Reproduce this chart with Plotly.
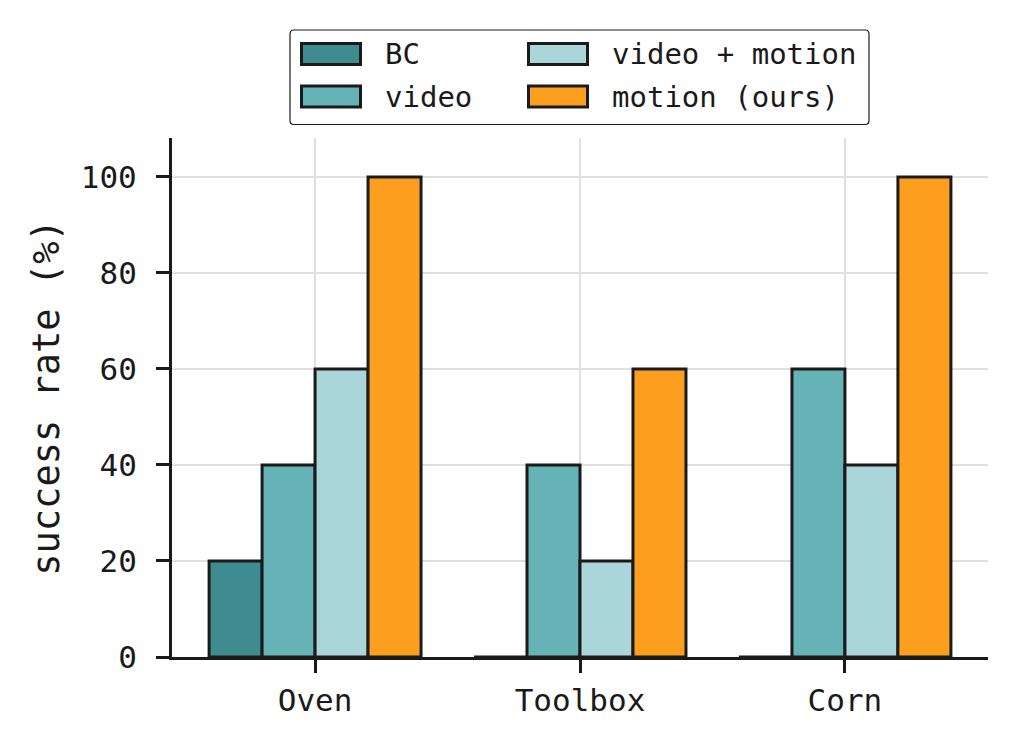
import plotly.graph_objects as go

categories = ["Oven", "Toolbox", "Corn"]
series_names = ["BC", "video", "video + motion", "motion (ours)"]
bc = [20, 0, 0]
video = [40, 40, 60]
video_motion = [60, 20, 40]
motion = [100, 60, 100]
series_values = [bc, video, video_motion, motion]
colors = ["#3f8c90", "#66b3b7", "#abd6d9", "#fd9f1e"]
y_ticks = [0, 20, 40, 60, 80, 100]
y_label = "success rate (%)"

W, H = 1017, 750
L, R, T, B = 172, 988, 138, 657
EDGE = "#1a1a1a"
FONT = "DejaVu Sans Mono"

fig = go.Figure()
for name, vals, col in zip(series_names, series_values, colors):
    fig.add_trace(go.Bar(
        x=categories, y=vals, name=name, showlegend=False,
        marker=dict(color=col, line=dict(color=EDGE, width=3)),
    ))

def px_x(p):
    return (p - L) / (R - L)

def px_y(p):
    return (B - p) / (B - T)

shapes = []
annotations = []
# legend box (rounded)
bx0, bx1, by0, by1, r = 290, 869, 30, 124.5, 4
rx, ry = r / (R - L), r / (B - T)
X0, X1, Y0, Y1 = px_x(bx0), px_x(bx1), px_y(by1), px_y(by0)
path = (f"M{X0+rx},{Y0} L{X1-rx},{Y0} Q{X1},{Y0} {X1},{Y0+ry} "
        f"L{X1},{Y1-ry} Q{X1},{Y1} {X1-rx},{Y1} L{X0+rx},{Y1} "
        f"Q{X0},{Y1} {X0},{Y1-ry} L{X0},{Y0+ry} Q{X0},{Y0} {X0+rx},{Y0} Z")
shapes.append(dict(type="path", path=path, xref="paper", yref="paper",
                   line=dict(color=EDGE, width=1.2), fillcolor="white", layer="above"))

col_sw = [301.5, 528.5]
col_tx = [383, 610]
row_c = [54, 96.5]
order = [(0, 0), (0, 1), (1, 0), (1, 1)]  # (col,row) for each series
for (c, rr), name, col in zip(order, series_names, colors):
    shapes.append(dict(type="rect", xref="paper", yref="paper",
                       x0=px_x(col_sw[c]), x1=px_x(col_sw[c] + 59),
                       y0=px_y(row_c[rr] + 10.5), y1=px_y(row_c[rr] - 10.5),
                       fillcolor=col, line=dict(color=EDGE, width=3), layer="above"))
    annotations.append(dict(text=name, xref="paper", yref="paper",
                            x=px_x(col_tx[c]), y=px_y(row_c[rr]),
                            xanchor="left", yanchor="middle", showarrow=False,
                            font=dict(family=FONT, size=29, color="#1a1a1a")))

fig.update_layout(
    width=W, height=H,
    margin=dict(l=L, r=W - R, t=T, b=H - B),
    paper_bgcolor="white", plot_bgcolor="white",
    barmode="group", bargap=0.2, bargroupgap=0,
    font=dict(family=FONT, size=31, color="#1a1a1a"),
    shapes=shapes, annotations=annotations,
    showlegend=False,
)
fig.update_xaxes(
    type="category", range=[-0.54, 2.54],
    showline=True, linecolor=EDGE, linewidth=3,
    ticks="outside", ticklen=13, tickwidth=3, tickcolor=EDGE,
    ticklabelstandoff=1,
    showgrid=True, gridcolor="#e0e0e0", gridwidth=1.5,
    zeroline=False,
)
fig.update_yaxes(
    range=[0, 108.1], tickvals=y_ticks,
    showline=True, linecolor=EDGE, linewidth=3,
    ticks="outside", ticklen=13, tickwidth=3, tickcolor=EDGE,
    ticklabelstandoff=13,
    showgrid=True, gridcolor="#e0e0e0", gridwidth=1.5,
    zeroline=False,
    title=dict(text=y_label, font=dict(family=FONT, size=37), standoff=10),
)

fig.write_html("out.html")
